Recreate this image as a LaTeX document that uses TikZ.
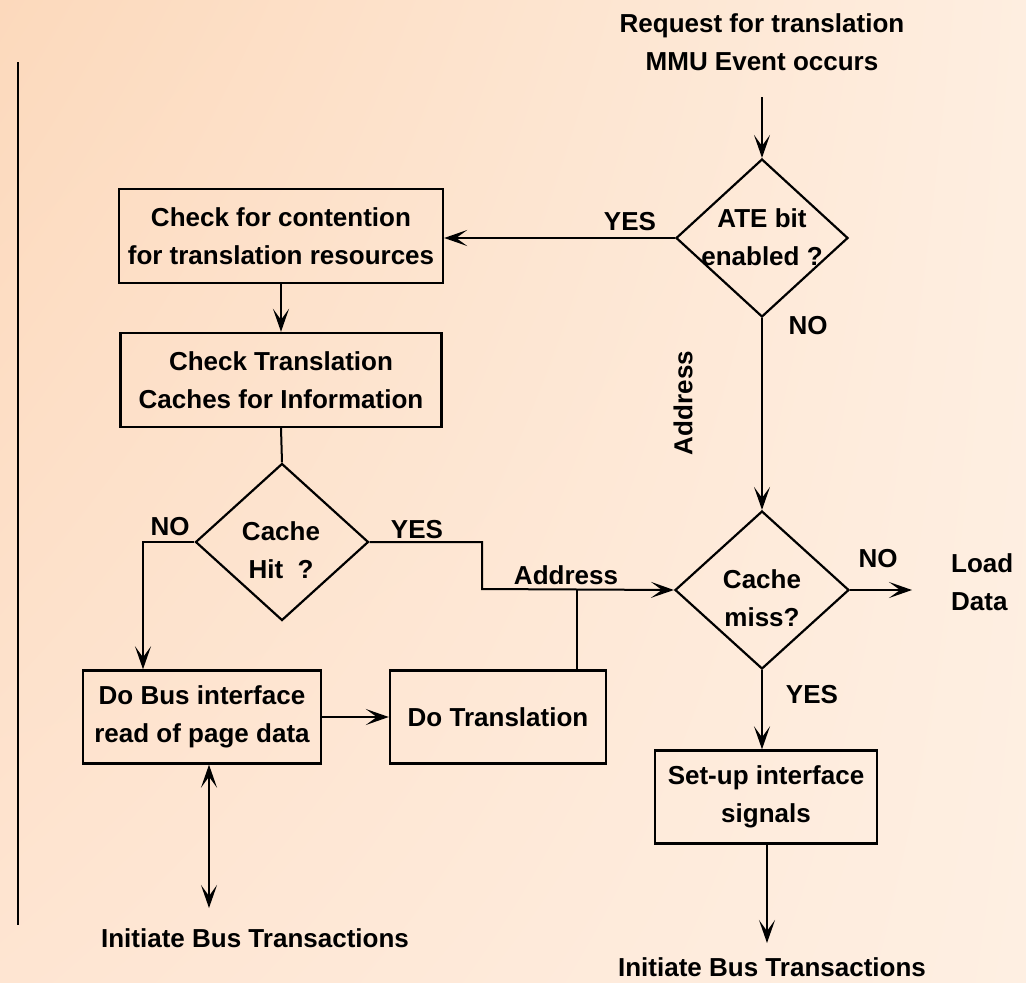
\documentclass[tikz,border=0pt]{standalone}
\usepackage{fontspec}
\setmainfont{Liberation Sans}
\usetikzlibrary{shapes.geometric,arrows.meta,shadings}
\definecolor{bgUL}{RGB}{252,217,188}
\definecolor{bgUR}{RGB}{254,238,224}
\definecolor{bgLL}{RGB}{254,229,210}
\definecolor{bgLR}{RGB}{254,239,226}
\begin{document}
\begin{tikzpicture}[x=1pt,y=-1pt,
  txt/.style={font=\fontsize{26pt}{38pt}\selectfont\bfseries,align=center,inner sep=0pt},
  procbox/.style={draw,line width=2.4pt,inner sep=0pt,align=center,
    font=\fontsize{26pt}{38pt}\selectfont\bfseries},
  decision/.style={draw,shape=diamond,line width=2.2pt,inner sep=0pt,aspect=1},
  flow/.style={line width=2pt,-{Stealth[length=23pt,width=16pt,inset=11pt]}},
  wire/.style={line width=2pt},
  both/.style={line width=2pt,{Stealth[length=23pt,width=16pt,inset=11pt]}-{Stealth[length=23pt,width=16pt,inset=11pt]}}]

% background
\shade[upper left=bgUL, upper right=bgUR, lower left=bgLL, lower right=bgLR]
  (0,0) rectangle (1026,983);
\useasboundingbox (0,0) rectangle (1026,983);

% margin rule
\coordinate (ruletop) at (18,62);
\coordinate (rulebot) at (18,925);
\draw[line width=2.2pt] (ruletop) -- (rulebot);

% entry
\node[txt] (req) at (762,42) {Request for translation\\MMU Event occurs};
\coordinate (reqend) at (762,97);

% decisions
\node[decision,minimum width=172pt,minimum height=158pt] (ate) at (762,238) {};
\node[txt] (atetxt) at (762,237) {ATE bit\\enabled ?};
\node[decision,minimum width=173pt,minimum height=157pt] (hit) at (282,542) {};
\node[txt] (hittxt) at (281,550) {Cache\\Hit\ \ ?};
\node[decision,minimum width=174pt,minimum height=158pt] (miss) at (762,590) {};
\node[txt] (misstxt) at (762,598) {Cache\\miss?};

% process boxes
\node[procbox,minimum width=324pt,minimum height=94pt] (contend) at (281,236)
  {Check for contention\\for translation resources};
\node[procbox,minimum width=321pt,minimum height=94pt] (caches) at (281,380)
  {Check Translation\\Caches for Information};
\node[procbox,minimum width=238pt,minimum height=93pt] (busread) at (202,717)
  {Do Bus interface\\read of page data};
\node[procbox,minimum width=216pt,minimum height=93pt] (xlate) at (498,717)
  {Do Translation};
\node[procbox,minimum width=222pt,minimum height=93pt] (setup) at (766,797)
  {Set-up interface\\signals};

% free ends and bends
\coordinate (nobend) at (143,542);
\coordinate (yesbend) at (482,542);
\coordinate (yesdrop) at (482,589);
\coordinate (junction) at (577,589);
\coordinate (loadend) at (912,590);
\coordinate (busend) at (209,908);
\coordinate (outend) at (767,943);

% end texts
\node[txt] (busL) at (255,938) {Initiate Bus Transactions};
\node[txt] (busR) at (772,967) {Initiate Bus Transactions};
\node[txt,anchor=west,align=left] (load) at (951,582) {Load\\Data};

% labels
\node[txt] (yesate) at (630,222) {YES};
\node[txt] (noate) at (808,326) {NO};
\node[txt,rotate=90] (addrv) at (683,403) {Address};
\node[txt] (nohit) at (170,527) {NO};
\node[txt] (yeshit) at (417,530) {YES};
\node[txt] (addrh) at (566,575) {Address};
\node[txt] (nomiss) at (878,559) {NO};
\node[txt] (yesmiss) at (812,695) {YES};

% connectors
\draw[flow] (reqend) -- (ate.north);
\draw[flow] (ate.west) -- (ate.west -| contend.east);
\draw[flow] (contend.south) -- (caches.north);
\draw[wire] (caches.south) -- (hit.north);
\draw[flow] (hit.west) -- (nobend) -- (nobend |- busread.north);
\draw[flow] (hit.east) -- (yesbend) -- (yesdrop) -- (miss.west);
\draw[wire] (xlate.north -| junction) -- (junction);
\draw[flow] (busread.east) -- (xlate.west);
\draw[both] (busread.south -| busend) -- (busend);
\draw[flow] (ate.south) -- (miss.north);
\draw[flow] (miss.east) -- (loadend);
\draw[flow] (miss.south) -- (miss.south |- setup.north);
\draw[flow] (setup.south -| outend) -- (outend);
\end{tikzpicture}
\end{document}
